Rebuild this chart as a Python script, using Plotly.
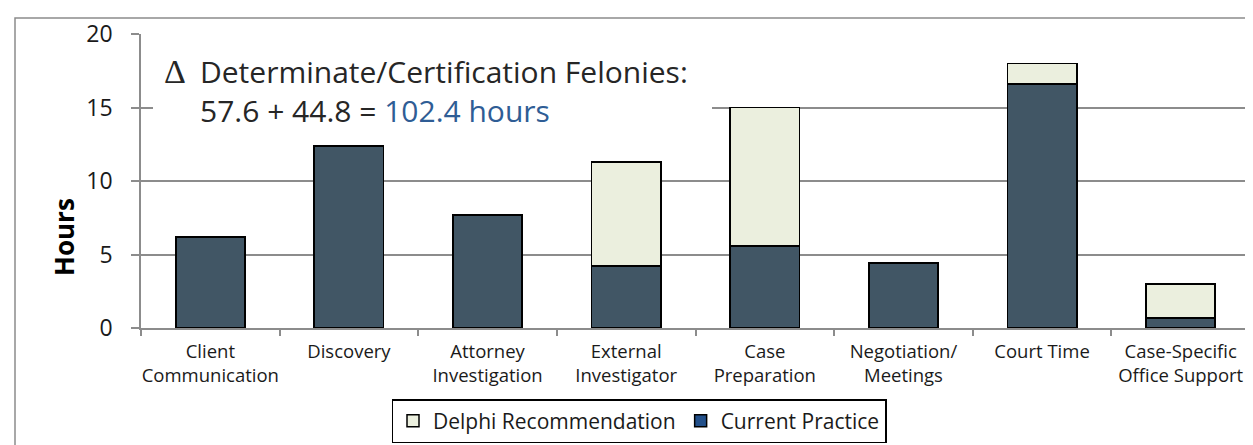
import plotly.graph_objects as go

categories = ["Client<br>Communication", "Discovery", "Attorney<br>Investigation",
              "External<br>Investigator", "Case<br>Preparation", "Negotiation/<br>Meetings",
              "Court Time", "Case-Specific<br>Office Support"]
current_practice = [6.2, 12.4, 7.7, 4.2, 5.6, 4.4, 16.6, 0.7]
delphi_extra = [None, None, None, 7.1, 9.4, None, 1.4, 2.3]
y_ticks = [0, 5, 10, 15, 20]

DARK = "#415665"
LIGHT = "#EBEFDE"
LEG_BLUE = "#22508A"
GRID = "#8C8C8C"
FONT = "Open Sans"

PL, PR, PT, PB = 133, 1242, 26, 320
W, H = 1253, 445
def px(x): return (x - PL) / (PR - PL)
def py(y): return (PB - y) / (PB - PT)

fig = go.Figure()
fig.add_trace(go.Bar(x=categories, y=current_practice, name="Current Practice",
                     marker=dict(color=DARK, line=dict(color="black", width=1.8)),
                     width=0.5, showlegend=False))
fig.add_trace(go.Bar(x=categories, y=delphi_extra, name="Delphi Recommendation",
                     marker=dict(color=LIGHT, line=dict(color="black", width=1.8)),
                     width=0.5, showlegend=False))
# legend entries
fig.add_trace(go.Bar(x=[categories[0]], y=[None], name="Delphi Recommendation",
                     marker=dict(color=LIGHT, line=dict(color="black", width=1.5))))
fig.add_trace(go.Bar(x=[categories[0]], y=[None], name="Current Practice",
                     marker=dict(color=LEG_BLUE, line=dict(color="black", width=1.5))))

fig.update_layout(
    width=W, height=H, barmode="stack",
    margin=dict(l=PL, r=W - PR, t=PT, b=H - PB, autoexpand=False),
    paper_bgcolor="white", plot_bgcolor="white",
    font=dict(family=FONT, color="#1a1a1a"),
    showlegend=True,
    legend=dict(orientation="h", x=px(631), xanchor="center", y=py(413), yanchor="middle",
                bordercolor="black", borderwidth=1.5, font=dict(size=21, family=FONT),
                traceorder="normal", itemwidth=30),
    xaxis=dict(type="category", tickson="boundaries", ticks="outside", ticklen=6,
               tickcolor=GRID, tickwidth=1.5, showline=True, linecolor=GRID, linewidth=1.5,
               tickangle=0, ticklabelstandoff=6,
               tickfont=dict(size=18.5, family=FONT, color="#1a1a1a"), showgrid=False),
    yaxis=dict(range=[0, 20], tickvals=y_ticks, ticks="outside", ticklen=8,
               tickcolor=GRID, tickwidth=1.5, showline=True, linecolor=GRID, linewidth=1.5,
               gridcolor=GRID, gridwidth=1.5, zeroline=False, ticklabelstandoff=14,
               tickfont=dict(size=23, family=FONT, color="#1a1a1a")),
)

# outer chart border
fig.add_shape(type="rect", xref="paper", yref="paper",
              x0=px(7), x1=px(1262), y0=py(452), y1=py(10),
              line=dict(color="#8C8C8C", width=1.5), fillcolor="rgba(0,0,0,0)", layer="below")
# white box behind annotation
fig.add_shape(type="rect", xref="paper", yref="paper",
              x0=px(145), x1=px(704), y0=py(124), y1=py(38),
              line=dict(width=0), fillcolor="white", layer="above")

fig.add_annotation(xref="paper", yref="paper", x=px(167), y=py(63), xanchor="center", yanchor="middle",
                   showarrow=False, text="Δ",
                   font=dict(size=34, family="Liberation Serif", color="#262626"))
fig.add_annotation(xref="paper", yref="paper", x=px(190), y=py(63), xanchor="left", yanchor="middle",
                   showarrow=False, align="left",
                   text="Determinate/Certification Felonies:",
                   font=dict(size=30, family=FONT, color="#262626"))
fig.add_annotation(xref="paper", yref="paper", x=px(190), y=py(103), xanchor="left", yanchor="middle",
                   showarrow=False, align="left",
                   text="57.6 + 44.8 = <span style='color:#2F5D95'>102.4 hours</span>",
                   font=dict(size=30, family=FONT, color="#262626"))
fig.add_annotation(xref="paper", yref="paper", x=px(56), y=py(229), xanchor="center", yanchor="middle",
                   showarrow=False, textangle=-90, text="<b>Hours</b>",
                   font=dict(size=26, family=FONT, color="black"))

fig.write_html("out.html")
